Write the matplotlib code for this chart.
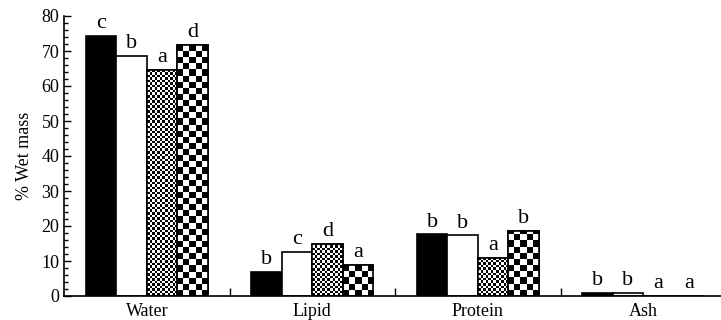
import matplotlib
matplotlib.use('Agg')
import matplotlib.pyplot as plt
import numpy as np

plt.rcParams.update({
    'font.family': ['Liberation Serif', 'DejaVu Serif'],
    'font.size': 12,
})

# data
components = ["Water", "Lipid", "Protein", "Ash"]
diet1 = [74.2, 7.0, 17.6, 0.9]
diet2 = [68.7, 12.5, 17.3, 0.9]
diet3 = [64.5, 14.8, 11.0, 0.0]
diet4 = [71.7, 9.0, 18.6, 0.0]
letters1 = ["c", "b", "b", "b"]
letters2 = ["b", "c", "b", "b"]
letters3 = ["a", "d", "a", "a"]
letters4 = ["d", "a", "b", "a"]

series = [diet1, diet2, diet3, diet4]
letters = [letters1, letters2, letters3, letters4]
# fill: solid black, white, fine checker, coarse checker
fills = ["black", "white", ("checker", 12), ("checker", 5)]

fig = plt.figure(figsize=(7.21, 3.2), dpi=100)
ax = fig.add_axes([0.089, 0.075, 0.911, 0.875])

x = np.arange(len(components))
width = 0.184
offsets = (np.arange(4) - 1.5) * width
px_per_unit = 280 / 80.0  # vertical pixels per % unit

for k, vals in enumerate(series):
    f = fills[k]
    face = f if isinstance(f, str) else "white"
    bars = ax.bar(x + offsets[k], vals, width, color=face, edgecolor="black",
                  linewidth=1.2, zorder=2)
    if not isinstance(f, str):
        ncols = f[1]
        cell_px = 30.5 / ncols
        for bar in bars:
            h = bar.get_height()
            if h <= 0:
                continue
            nrows = max(1, int(round(h * px_per_unit / cell_px)))
            board = (np.add.outer(np.arange(nrows), np.arange(ncols)) % 2).astype(float)
            x0 = bar.get_x()
            im = ax.imshow(board, cmap="gray", vmin=0, vmax=1, interpolation="nearest",
                           aspect="auto", origin="lower",
                           extent=(x0, x0 + bar.get_width(), 0, nrows * cell_px / px_per_unit),
                           zorder=2.5)
            im.set_clip_path(bar)
            # redraw outline on top
            ax.bar(bar.get_x() + bar.get_width() / 2, h, bar.get_width(), fill=False,
                   edgecolor="black", linewidth=1.2, zorder=3)
    for bar, lab in zip(bars, letters[k]):
        ax.text(bar.get_x() + bar.get_width() / 2, bar.get_height() + 0.8, lab,
                ha="center", va="bottom", fontsize=16)

ax.set_xlim(-0.5, 3.47)
ax.set_ylim(0, 80)
ax.set_yticks(np.arange(0, 81, 10))
ax.set_yticks(np.arange(0, 81, 2), minor=True)
ax.tick_params(axis="y", which="major", direction="in", length=5, width=1, labelsize=13)
ax.tick_params(axis="y", which="minor", direction="in", length=3, width=1)
ax.set_xticks(x)
ax.set_xticklabels(components, fontsize=13)
ax.tick_params(axis="x", which="major", length=0, pad=5)
ax.set_xticks([0.5, 1.5, 2.5], minor=True)
ax.tick_params(axis="x", which="minor", direction="in", length=6, width=1)
ax.set_ylabel("% Wet mass", fontsize=13, labelpad=6)

for side in ["top", "right"]:
    ax.spines[side].set_visible(False)
ax.spines["left"].set_linewidth(1.2)
ax.spines["bottom"].set_linewidth(1.2)

plt.savefig("out.png", dpi=100)
